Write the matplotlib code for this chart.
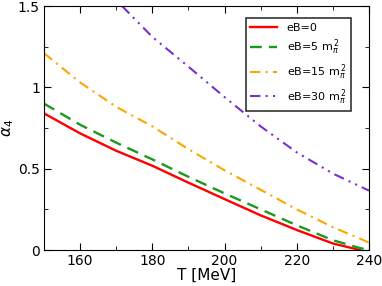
import matplotlib
matplotlib.use("Agg")
import matplotlib.pyplot as plt
from matplotlib.ticker import MultipleLocator, FixedLocator

# temperatures [MeV]
T = [150, 160, 170, 180, 190, 200, 210, 220, 230, 237.5, 240]
T_pur = [171.6, 180, 190, 200, 210, 220, 230, 240]

a_eB0 = [0.84, 0.717, 0.61, 0.518, 0.414, 0.313, 0.213, 0.123, 0.04, 0.0, None]
a_eB5 = [0.90, 0.77, 0.66, 0.557, 0.45, 0.348, 0.25, 0.152, 0.06, 0.012, 0.0]
a_eB15 = [1.21, 1.03, 0.88, 0.76, 0.62, 0.49, 0.37, 0.25, 0.14, 0.07, 0.045]
a_eB30 = [1.5, 1.31, 1.127, 0.94, 0.76, 0.60, 0.47, 0.365]

labels = ["eB=0", r"eB=5 m$_{\pi}^{\,2}$", r"eB=15 m$_{\pi}^{\,2}$", r"eB=30 m$_{\pi}^{\,2}$"]

fig = plt.figure(figsize=(3.82, 2.86), dpi=100)
ax = fig.add_axes([44/382, 1 - 250/286, 325/382, 244/286])

ax.plot(T[:10], a_eB0[:10], color="red", lw=1.7, label=labels[0])
ax.plot(T, a_eB5, color="#1a9a1a", lw=1.7, ls=(0, (5, 3)), label=labels[1])
ax.plot(T, a_eB15, color="orange", lw=1.5, ls=(0, (5, 2.5, 1, 2.5)), label=labels[2])
ax.plot(T_pur, a_eB30, color="#7b2fcf", lw=1.5, ls=(0, (5, 2.5, 1, 2.5, 1, 2.5)), label=labels[3])

ax.set_xlim(150, 240)
ax.set_ylim(0, 1.5)
ax.xaxis.set_major_locator(FixedLocator([160, 180, 200, 220, 240]))
ax.xaxis.set_minor_locator(MultipleLocator(10))
ax.yaxis.set_major_locator(FixedLocator([0, 0.5, 1, 1.5]))
ax.yaxis.set_minor_locator(MultipleLocator(0.25))
ax.set_yticklabels(["0", "0.5", "1", "1.5"])
ax.tick_params(which="both", direction="in", top=True, right=True, labelsize=10, pad=3)
ax.tick_params(which="major", length=5)
ax.tick_params(which="minor", length=3)

ax.set_xlabel("T [MeV]", fontsize=11, labelpad=0)
ax.set_ylabel(r"$\alpha_4$", fontsize=11, labelpad=1)

leg = ax.legend(loc="upper right", bbox_to_anchor=(0.962, 0.972), fontsize=8,
                frameon=True, fancybox=False, edgecolor="black", handlelength=2.4,
                borderpad=0.4, labelspacing=0.45, handletextpad=0.9)
leg.get_frame().set_linewidth(1.2)

fig.savefig("out.png", dpi=100)
